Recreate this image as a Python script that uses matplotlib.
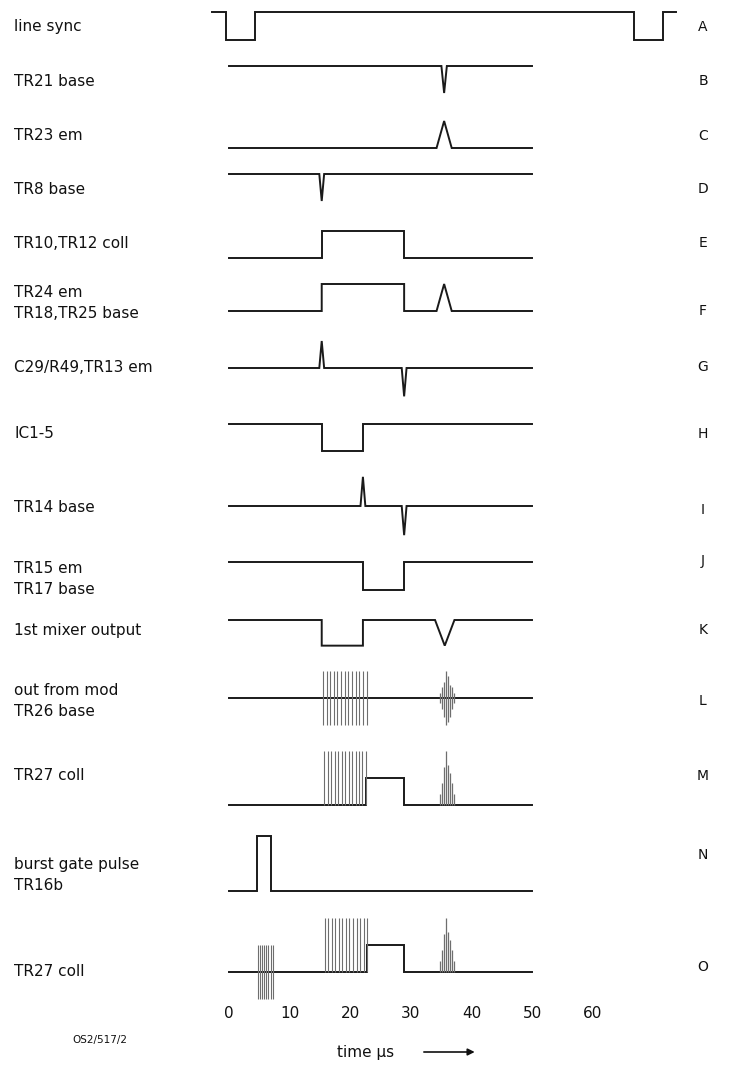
import numpy as np
import matplotlib.pyplot as plt

# row names and right-hand letters
labels = ["line sync", "TR21 base", "TR23 em", "TR8 base", "TR10,TR12 coll",
          "TR24 em\nTR18,TR25 base", "C29/R49,TR13 em", "IC1-5", "TR14 base",
          "TR15 em\nTR17 base", "1st mixer output", "out from mod\nTR26 base",
          "TR27 coll", "burst gate pulse\nTR16b", "TR27 coll"]
letters = list("ABCDEFGHIJKLMNO")
xticks = [0, 10, 20, 30, 40, 50, 60]

# edge times (µs)
sync_edges = [(-0.5, 4.3), (66.8, 71.6)]
gate_long = (15.3, 28.9)      # E, F
gate_first = (15.3, 22.1)     # H, K
gate_second = (22.1, 28.9)    # J
burst_gate = (4.6, 6.9)       # N
echo_t = 35.5

# small echo burst envelopes (multiples of one pulse height)
echo_times = [34.8, 35.1, 35.4, 35.8, 36.1, 36.4, 36.8, 37.2]
echo_up = [0.4, 0.8, 1.4, 2.0, 1.5, 1.2, 0.8, 0.4]
echo_l_up = [0.2, 0.4, 0.6, 1.0, 0.8, 0.5, 0.4, 0.2]
echo_l_dn = [0.2, 0.4, 0.7, 1.0, 0.9, 0.7, 0.4, 0.2]

# row layout: pixel y of each baseline and pixel height of one pulse
row_y = [12, 66, 148, 174, 258, 311, 368, 424, 506, 562, 620, 698, 805, 891, 972]
unit = 27
px_per_us = 6.06
x0_px = 229


def wave(features, t0=0, t1=50):
    ts, vs = [t0], [0]
    for f in features:
        if f[0] == "step":
            _, a, b, lvl = f
            ts += [a, a, b, b]
            vs += [0, lvl, lvl, 0]
        else:
            _, tc, hw, lvl = f
            ts += [tc - hw, tc, tc + hw]
            vs += [0, lvl, 0]
    ts.append(t1)
    vs.append(0)
    return np.array(ts), np.array(vs)


traces = [
    wave([("step", *sync_edges[0], -1.05), ("step", *sync_edges[1], -1.05)], -2.8, 73.8),
    wave([("spike", echo_t, 0.45, -1)]),
    wave([("spike", echo_t, 1.25, 1)]),
    wave([("spike", gate_long[0], 0.4, -1)]),
    wave([("step", *gate_long, 1)]),
    wave([("step", *gate_long, 1), ("spike", echo_t, 1.25, 1)]),
    wave([("spike", gate_long[0], 0.4, 1), ("spike", gate_long[1], 0.4, -1.05)]),
    wave([("step", *gate_first, -1)]),
    wave([("spike", gate_second[0], 0.4, 1.08), ("spike", gate_second[1], 0.4, -1.08)]),
    wave([("step", *gate_second, -1.05)]),
    wave([("step", *gate_first, -0.95), ("spike", 35.6, 1.6, -0.95)]),
    wave([]),
    wave([("step", gate_second[0] + 0.5, gate_second[1], 1)]),
    wave([("step", *burst_gate, 2.05)]),
    wave([("step", gate_second[0] + 0.7, gate_second[1], 1)]),
]

# bursts: (row, start, end, n lines, low level, high level)
bursts = [
    (11, 15.5, 22.7, 13, -1, 1),
    (12, 15.7, 22.6, 13, 0, 2),
    (14, 4.8, 7.2, 8, -1, 1),
    (14, 15.8, 22.8, 13, 0, 2),
]

fig = plt.figure(figsize=(7.41, 10.67), dpi=100)
ax = fig.add_axes([0, 0, 1, 1])
ax.set_xlim(-x0_px / px_per_us, (741 - x0_px) / px_per_us)
ax.set_ylim(1067, 0)
ax.axis("off")

font = dict(family="DejaVu Sans", fontsize=11, color="#111111")

for i, (ts, vs) in enumerate(traces):
    ax.plot(ts, row_y[i] - vs * unit, color="#1a1a1a", lw=1.4, solid_joinstyle="miter")

for row, a, b, n, lo, hi in bursts:
    xs = np.linspace(a, b, n)
    ax.vlines(xs, row_y[row] - lo * unit, row_y[row] - hi * unit, color="#6e6e6e", lw=0.8)

# echo bursts on L, M, O
ax.vlines(echo_times, row_y[11] + np.array(echo_l_dn) * unit,
          row_y[11] - np.array(echo_l_up) * unit, color="#6e6e6e", lw=0.9)
for row in (12, 14):
    ax.vlines(echo_times, row_y[row], row_y[row] - np.array(echo_up) * unit,
              color="#6e6e6e", lw=0.9)

# labels on the left
label_x = (14 - x0_px) / px_per_us
label_y = [27, 81, 136, 189, 243, 303, 367, 434, 507, 579, 630, 701, 776, 875, 972]
for txt, y in zip(labels, label_y):
    ax.text(label_x, y, txt, ha="left", va="center", linespacing=1.55, **font)

letter_x = (703 - x0_px) / px_per_us
letter_y = [27, 81, 136, 189, 243, 311, 367, 434, 510, 561, 630, 701, 776, 855, 967]
for txt, y in zip(letters, letter_y):
    ax.text(letter_x, y, txt, ha="center", va="center",
            family="DejaVu Sans", fontsize=10, color="#111111")

for t in xticks:
    ax.text(t, 1013, str(t), ha="center", va="center", **font)

ax.text(17.8, 1052, "time µs", ha="left", va="center", **font)
ax.annotate("", xy=(41, 1052), xytext=(31.7, 1052),
            arrowprops=dict(arrowstyle="-|>", color="#111111", lw=1.2))
ax.text((100 - x0_px) / px_per_us, 1040, "OS2/517/2", ha="center", va="center",
        family="DejaVu Sans", fontsize=7.5, color="#111111")

fig.savefig("out.png", dpi=100)
